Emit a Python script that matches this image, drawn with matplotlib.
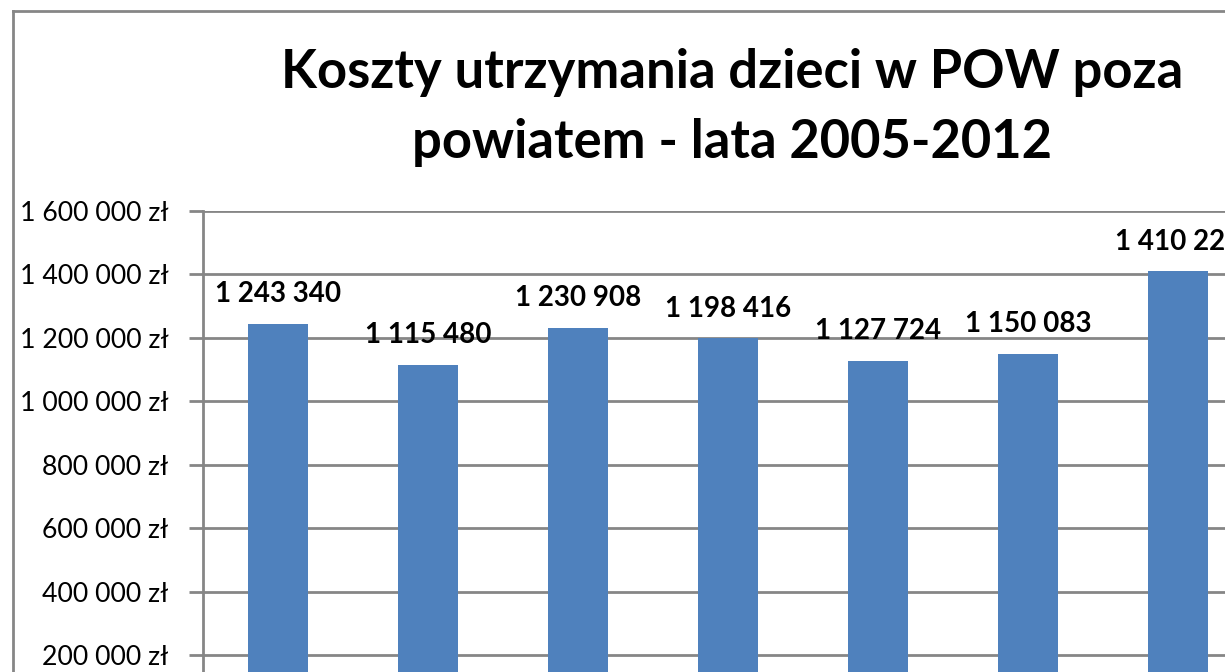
import matplotlib
matplotlib.use("Agg")
import matplotlib.pyplot as plt
from matplotlib.lines import Line2D
from matplotlib.ticker import FuncFormatter

years = ["2005", "2006", "2007", "2008", "2009", "2010", "2011", "2012"]
costs = [1243340, 1115480, 1230908, 1198416, 1127724, 1150083, 1410225]
yticks = [200000, 400000, 600000, 800000, 1000000, 1200000, 1400000, 1600000]

W, H = 1225, 672
plt.rcParams['font.family'] = ['Lato', 'DejaVu Sans']
fig = plt.figure(figsize=(W / 100, H / 100), dpi=100)

# plot area extends past the right and bottom edges (cropped chart)
left, right = 203, 1403
top, zero = 211, 718.5
ax = fig.add_axes([left / W, (H - zero) / H, (right - left) / W, (zero - top) / H])

grey = "#868686"
x = list(range(len(costs)))
ax.bar(x, costs, width=0.4, color="#4F81BD", zorder=3)
ax.set_xlim(-0.5, len(years) - 0.5)
ax.set_ylim(0, 1600000)
ax.set_yticks(yticks)
ax.yaxis.set_major_formatter(FuncFormatter(lambda v, p: f"{int(v):,}".replace(",", " ") + " zł"))
ax.set_xticks([])
ax.grid(axis="y", color=grey, linewidth=2, zorder=0)
for s in ["top", "right", "bottom"]:
    ax.spines[s].set_visible(False)
ax.spines["left"].set_color(grey)
ax.spines["left"].set_linewidth(2)
ax.tick_params(axis="y", length=10, width=2, color=grey, pad=15, labelsize=19.2)

for xi, v in zip(x, costs):
    ax.annotate(f"{v:,}".replace(",", " "), (xi, v), xytext=(0, 12), textcoords="offset points",
                ha="center", va="bottom", fontsize=20, fontweight="bold", zorder=4)

fig.text(732 / W, 1 - 88 / H, "Koszty utrzymania dzieci w POW poza", ha="center", va="baseline",
         fontsize=37.8, fontweight="bold")
fig.text(732 / W, 1 - 158 / H, "powiatem - lata 2005-2012", ha="center", va="baseline",
         fontsize=37.8, fontweight="bold")

# outer chart border
fig.add_artist(Line2D([13 / W, 13 / W], [0, 1 - 11 / H], color=grey, linewidth=2))
fig.add_artist(Line2D([13 / W, 1], [1 - 11 / H, 1 - 11 / H], color=grey, linewidth=2))

fig.savefig("out.png", dpi=100)
